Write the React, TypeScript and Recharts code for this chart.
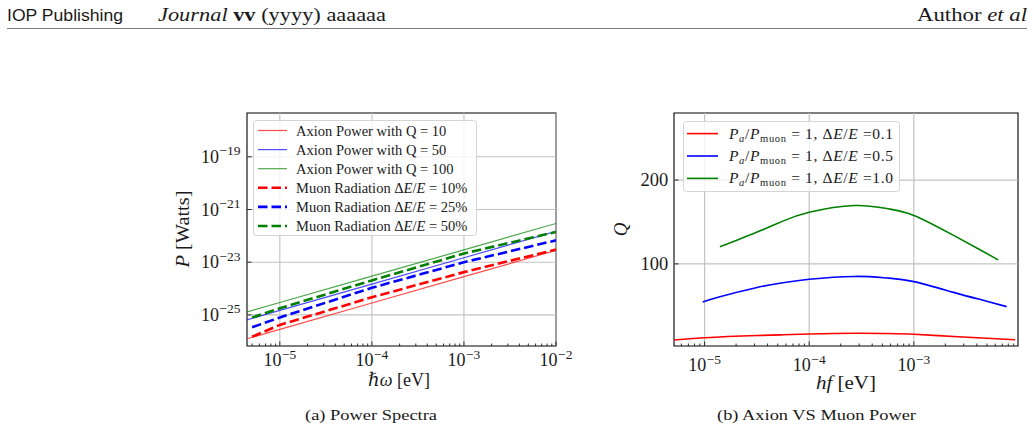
import React from 'react';
import {
  LineChart, Line, XAxis, YAxis, ReferenceLine, ReferenceArea, Legend,
} from 'recharts';

const SERIF = '"Liberation Serif", "DejaVu Serif", serif';
const SANS = '"Liberation Sans", "DejaVu Sans", sans-serif';
const INK = '#1a1a1a';
const GRID = '#c2c2c2';

/* ── (a) power spectra: photon energy [eV] vs power [W] ─────────────── */
const OMEGA_AXION = [4.4e-6, 1e-5, 1e-4, 1e-3, 1e-2];
const AXION_Q10 = [1.24e-26, 2.82e-26, 2.82e-25, 2.82e-24, 2.82e-23];
const AXION_Q50 = [6.5e-26, 1.48e-25, 1.48e-24, 1.48e-23, 1.48e-22];
const AXION_Q100 = [1.3e-25, 2.95e-25, 2.95e-24, 2.95e-23, 2.95e-22];

const OMEGA_MUON = [5e-6, 1e-5, 1e-4, 1e-3, 1e-2];
const MUON_10 = [1.48e-26, 4.17e-26, 4.68e-25, 4.2e-24, 3.02e-23];
const MUON_25 = [3.4e-26, 7.94e-26, 1.07e-24, 1.0e-23, 6.76e-23];
const MUON_50 = [7.9e-26, 1.78e-25, 2.04e-24, 2.14e-23, 1.41e-22];

const OMEGA_DOMAIN: [number, number] = [4.4e-6, 1e-2];
const POWER_DOMAIN: [number, number] = [6.6e-27, 4.6e-18];
const OMEGA_MAJOR = [1e-5, 1e-4, 1e-3, 1e-2];
const POWER_MAJOR = [1e-25, 1e-23, 1e-21, 1e-19];

/* ── (b) quality factor needed for P_a = P_muon ───────────────────── */
const HF_R = [5.1e-6, 1e-5, 3.2e-5, 5.6e-5, 1e-4, 2.7e-4, 5.5e-4, 1e-3, 2.4e-3, 5e-3, 9.3e-3];
const Q_R = [9.2, 11.9, 14.5, 15.4, 16.3, 17.2, 16.9, 16.0, 13.3, 11.3, 9.5];
const HF_B = [9.6e-6, 1.4e-5, 3.1e-5, 5.6e-5, 1e-4, 2.7e-4, 5.5e-4, 1e-3, 2.4e-3, 4.5e-3, 7.7e-3];
const Q_B = [54.6, 60.8, 71.6, 77.5, 81.7, 85.0, 83.2, 78.8, 66.0, 56.8, 49.0];
const HF_G = [1.4e-5, 3.1e-5, 5.6e-5, 1e-4, 2.7e-4, 5.5e-4, 1e-3, 2.4e-3, 4.2e-3, 6.4e-3];
const Q_G = [120.3, 137.4, 151.0, 161.5, 169.6, 166.0, 157.8, 134.0, 117.5, 104.8];

const HF_DOMAIN: [number, number] = [5.1e-6, 9.9e-3];
const Q_DOMAIN: [number, number] = [2, 280];
const HF_MAJOR = [1e-5, 1e-4, 1e-3];
const Q_TICKS = [100, 200];

const axionRows = OMEGA_AXION.map((w, i) => ({ w, q10: AXION_Q10[i], q50: AXION_Q50[i], q100: AXION_Q100[i] }));
const muonRows = OMEGA_MUON.map((w, i) => ({ w, m10: MUON_10[i], m25: MUON_25[i], m50: MUON_50[i] }));
const redRows = HF_R.map((hf, i) => ({ hf, r01: Q_R[i] }));
const blueRows = HF_B.map((hf, i) => ({ hf, r05: Q_B[i] }));
const greenRows = HF_G.map((hf, i) => ({ hf, r10: Q_G[i] }));

// decade ticks plus the 2..9 minors in between, clipped to the axis range
function logTicks([lo, hi]: [number, number]) {
  const out: number[] = [];
  for (let e = Math.floor(Math.log10(lo)); e <= Math.ceil(Math.log10(hi)); e++) {
    for (let m = 1; m <= 9; m++) {
      const v = m * Math.pow(10, e);
      if (v >= lo * 0.999 && v <= hi * 1.001) out.push(v);
    }
  }
  return out;
}

const isDecade = (v: number) => Math.abs(Math.log10(v) - Math.round(Math.log10(v))) < 1e-6;

const Pow10 = ({ exp, sup }: { exp: number; sup: number }) => (
  <>10<tspan dx={0.5} dy={-7.5} fontSize={sup}>{exp < 0 ? `\u2212${-exp}` : exp}</tspan></>
);

/* ── ticks: matplotlib style, pointing into the axes ──────────────── */
function LogXTick(props: any) {
  const { x, y, payload, labelDy } = props;
  const v: number = payload.value;
  const major = isDecade(v);
  return (
    <g>
      <line x1={x} x2={x} y1={y} y2={y - (major ? 4.5 : 2.5)} stroke="#000" strokeWidth={0.8} />
      {major && (
        <text x={x} y={y + labelDy} textAnchor="middle" fontFamily={SERIF} fontSize={18} fill={INK}>
          <Pow10 exp={Math.round(Math.log10(v))} sup={13.5} />
        </text>
      )}
    </g>
  );
}

function LogYTick(props: any) {
  const { x, y, payload } = props;
  const v: number = payload.value;
  return (
    <g>
      <line x1={x} x2={x + 4.5} y1={y} y2={y} stroke="#000" strokeWidth={0.8} />
      <text x={x - 6.5} y={y + 6} textAnchor="end" fontFamily={SERIF} fontSize={18} fill={INK}>
        <Pow10 exp={Math.round(Math.log10(v))} sup={13.5} />
      </text>
    </g>
  );
}

function LinYTick(props: any) {
  const { x, y, payload } = props;
  return (
    <g>
      <line x1={x} x2={x + 4.5} y1={y} y2={y} stroke="#000" strokeWidth={0.8} />
      <text x={x - 5.7} y={y + 6.3} textAnchor="end" fontFamily={SERIF} fontSize={18.5} fill={INK}>
        {payload.value}
      </text>
    </g>
  );
}

/* ── legend styles and labels ─────────────────────────────────────── */
const it = (s: string) => <tspan fontStyle="italic">{s}</tspan>;
const dEoverE = <>Δ{it('E')}/{it('E')}</>;

const POWER_ORDER = ['q10', 'q50', 'q100', 'm10', 'm25', 'm50'];
const POWER_SERIES: Record<string, { color: string; width: number; opacity: number; dash?: string; label: React.ReactNode }> = {
  q10: { color: '#ff0000', width: 1.2, opacity: 0.7, label: 'Axion Power with Q = 10' },
  q50: { color: '#0000ff', width: 1.2, opacity: 0.7, label: 'Axion Power with Q = 50' },
  q100: { color: '#008000', width: 1.2, opacity: 0.7, label: 'Axion Power with Q = 100' },
  m10: { color: '#ff0000', width: 2.6, opacity: 1, dash: '9.5 4', label: <>Muon Radiation {dEoverE} = 10%</> },
  m25: { color: '#0000ff', width: 2.6, opacity: 1, dash: '9.5 4', label: <>Muon Radiation {dEoverE} = 25%</> },
  m50: { color: '#008000', width: 2.6, opacity: 1, dash: '9.5 4', label: <>Muon Radiation {dEoverE} = 50%</> },
};

const ratioLabel = (v: string) => (
  <>
    {it('P')}<tspan fontSize={10.5} fontStyle="italic" dy={3}>a</tspan>
    <tspan dy={-3}>/</tspan>{it('P')}<tspan fontSize={10.5} dy={3}>muon</tspan>
    <tspan dy={-3}> = 1, </tspan>{dEoverE} ={v}
  </>
);

const Q_ORDER = ['r01', 'r05', 'r10'];
const Q_SERIES: Record<string, { color: string; label: React.ReactNode }> = {
  r01: { color: '#ff0000', label: ratioLabel('0.1') },
  r05: { color: '#0000ff', label: ratioLabel('0.5') },
  r10: { color: '#008000', label: ratioLabel('1.0') },
};

const byOrder = (order: string[]) => (a: any, b: any) =>
  order.indexOf(String(a.dataKey)) - order.indexOf(String(b.dataKey));

function PowerLegend({ payload }: any) {
  const W = 224, H = 116, ROW = 19.1, TOP = 10.5;
  const items = [...(payload ?? [])].sort(byOrder(POWER_ORDER));
  return (
    <svg width={W} height={H} style={{ display: 'block' }}>
      <rect x={0.5} y={0.5} width={W - 1} height={H - 1} rx={3} fill="#fff" fillOpacity={0.8} stroke="#d4d4d4" />
      {items.map((entry: any, i: number) => {
        const s = POWER_SERIES[entry.dataKey];
        const cy = TOP + i * ROW;
        return (
          <g key={entry.dataKey}>
            <line x1={5} x2={34} y1={cy} y2={cy} stroke={s.color} strokeWidth={s.width}
              strokeOpacity={s.opacity} strokeDasharray={s.dash} />
            <text x={43} y={cy + 5} fontFamily={SERIF} fontSize={14.5} fill={INK}>{s.label}</text>
          </g>
        );
      })}
    </svg>
  );
}

function QLegend({ payload }: any) {
  const W = 217, H = 71, ROW = 22.4, TOP = 12.6;
  const items = [...(payload ?? [])].sort(byOrder(Q_ORDER));
  return (
    <svg width={W} height={H} style={{ display: 'block' }}>
      <rect x={0.5} y={0.5} width={W - 1} height={H - 1} rx={3} fill="#fff" fillOpacity={0.8} stroke="#d4d4d4" />
      {items.map((entry: any, i: number) => {
        const s = Q_SERIES[entry.dataKey];
        const cy = TOP + i * ROW;
        return (
          <g key={entry.dataKey}>
            <line x1={4} x2={35} y1={cy} y2={cy} stroke={s.color} strokeWidth={1.6} />
            <text x={46} y={cy + 5} fontFamily={SERIF} fontSize={15.5} fill={INK}
              textLength={164} lengthAdjust="spacing">{s.label}</text>
          </g>
        );
      })}
    </svg>
  );
}

/* ── (a) ──────────────────────────────────────────────────────────── */
function PowerSpectra() {
  return (
    <LineChart width={420} height={300} margin={{ top: 13, right: 34, bottom: 0, left: 0 }}>
      {OMEGA_MAJOR.map((v) => <ReferenceLine key={`gx${v}`} x={v} stroke={GRID} strokeWidth={1.1} />)}
      {POWER_MAJOR.map((v) => <ReferenceLine key={`gy${v}`} y={v} stroke={GRID} strokeWidth={1.1} />)}
      <XAxis dataKey="w" type="number" scale="log" domain={OMEGA_DOMAIN} allowDataOverflow
        ticks={logTicks(OMEGA_DOMAIN)} interval={0} tickSize={0} tickMargin={0} axisLine={false} height={54}
        tick={(p: any) => <LogXTick {...p} labelDy={20} />}
        label={({ viewBox }: any) => (
          <text x={368 - 170} y={viewBox.y + 40} fontFamily={SERIF} fontSize={19} fill={INK}
            textLength={62} lengthAdjust="spacingAndGlyphs">
            <tspan fontStyle="italic">ℏω</tspan> [eV]
          </text>
        )} />
      <YAxis type="number" scale="log" domain={POWER_DOMAIN} allowDataOverflow
        ticks={POWER_MAJOR} interval={0} tickSize={0} tickMargin={0} axisLine={false} width={77}
        tick={(p: any) => <LogYTick {...p} />}
        label={({ viewBox }: any) => (
          <text transform={`translate(${viewBox.x + 19},${viewBox.y + viewBox.height / 2 + 38}) rotate(-90)`}
            fontFamily={SERIF} fontSize={19} fill={INK} textLength={77} lengthAdjust="spacingAndGlyphs">
            <tspan fontStyle="italic">P</tspan> [Watts]
          </text>
        )} />
      <Line data={axionRows} dataKey="q10" name="Axion Power with Q = 10" type="linear" dot={false} activeDot={false}
        stroke="#ff0000" strokeOpacity={0.7} strokeWidth={1.2} isAnimationActive={false} />
      <Line data={axionRows} dataKey="q50" name="Axion Power with Q = 50" type="linear" dot={false} activeDot={false}
        stroke="#0000ff" strokeOpacity={0.7} strokeWidth={1.2} isAnimationActive={false} />
      <Line data={axionRows} dataKey="q100" name="Axion Power with Q = 100" type="linear" dot={false} activeDot={false}
        stroke="#008000" strokeOpacity={0.7} strokeWidth={1.2} isAnimationActive={false} />
      <Line data={muonRows} dataKey="m10" name="Muon Radiation 10%" type="linear" dot={false} activeDot={false}
        stroke="#ff0000" strokeWidth={2.6} strokeDasharray="9.5 4" isAnimationActive={false} />
      <Line data={muonRows} dataKey="m25" name="Muon Radiation 25%" type="linear" dot={false} activeDot={false}
        stroke="#0000ff" strokeWidth={2.6} strokeDasharray="9.5 4" isAnimationActive={false} />
      <Line data={muonRows} dataKey="m50" name="Muon Radiation 50%" type="linear" dot={false} activeDot={false}
        stroke="#008000" strokeWidth={2.6} strokeDasharray="9.5 4" isAnimationActive={false} />
      <ReferenceArea x1={OMEGA_DOMAIN[0]} x2={OMEGA_DOMAIN[1]} y1={POWER_DOMAIN[0]} y2={POWER_DOMAIN[1]}
        ifOverflow="visible" fill="none" stroke="#000" strokeWidth={1.1} />
      <Legend layout="vertical" align="center" verticalAlign="middle" content={PowerLegend}
        wrapperStyle={{ left: 83, top: 20, width: 224, height: 116 }} />
    </LineChart>
  );
}

/* ── (b) ──────────────────────────────────────────────────────────── */
function AxionVsMuon() {
  return (
    <LineChart width={420} height={300} margin={{ top: 13, right: 12, bottom: 0, left: 0 }}>
      {HF_MAJOR.map((v) => <ReferenceLine key={`gx${v}`} x={v} stroke={GRID} strokeWidth={1.2} />)}
      {Q_TICKS.map((v) => <ReferenceLine key={`gy${v}`} y={v} stroke={GRID} strokeWidth={1.2} />)}
      <XAxis dataKey="hf" type="number" scale="log" domain={HF_DOMAIN} allowDataOverflow
        ticks={logTicks(HF_DOMAIN)} interval={0} tickSize={0} tickMargin={0} axisLine={false} height={54}
        tick={(p: any) => <LogXTick {...p} labelDy={25} />}
        label={({ viewBox }: any) => (
          <text x={816 - 610} y={viewBox.y + 43} fontFamily={SERIF} fontSize={19} fill={INK}
            textLength={60} lengthAdjust="spacingAndGlyphs">
            <tspan fontStyle="italic">hf</tspan> [eV]
          </text>
        )} />
      <YAxis type="number" domain={Q_DOMAIN} allowDataOverflow ticks={Q_TICKS} interval={0}
        tickSize={0} tickMargin={0} axisLine={false} width={64}
        tick={(p: any) => <LinYTick {...p} />}
        label={({ viewBox }: any) => (
          <text transform={`translate(${viewBox.x + 16.5},${viewBox.y + viewBox.height / 2}) rotate(-90)`}
            textAnchor="middle" fontFamily={SERIF} fontSize={19} fontStyle="italic" fill={INK}>Q</text>
        )} />
      <Line data={redRows} dataKey="r01" name="dE/E = 0.1" type="natural" dot={false} activeDot={false}
        stroke="#ff0000" strokeWidth={1.6} isAnimationActive={false} />
      <Line data={blueRows} dataKey="r05" name="dE/E = 0.5" type="natural" dot={false} activeDot={false}
        stroke="#0000ff" strokeWidth={1.6} isAnimationActive={false} />
      <Line data={greenRows} dataKey="r10" name="dE/E = 1.0" type="natural" dot={false} activeDot={false}
        stroke="#008000" strokeWidth={1.6} isAnimationActive={false} />
      <ReferenceArea x1={HF_DOMAIN[0]} x2={HF_DOMAIN[1]} y1={Q_DOMAIN[0]} y2={Q_DOMAIN[1]}
        ifOverflow="visible" fill="none" stroke="#000" strokeWidth={1.1} />
      <Legend layout="vertical" align="center" verticalAlign="middle" content={QLegend}
        wrapperStyle={{ left: 73, top: 21, width: 217, height: 71 }} />
    </LineChart>
  );
}

export default function App() {
  return (
    <div style={{ position: 'absolute', left: 0, top: 0, width: 1034, height: 433, background: '#fff', overflow: 'hidden' }}>
      <svg width={1034} height={433} style={{ position: 'absolute', left: 0, top: 0 }}>
        <text x={7} y={21} fontFamily={SANS} fontSize={16} fill={INK} textLength={116} lengthAdjust="spacingAndGlyphs">
          IOP Publishing
        </text>
        <text x={158} y={21} fontFamily={SERIF} fontSize={19} fill={INK} textLength={228} lengthAdjust="spacingAndGlyphs">
          <tspan fontStyle="italic">Journal</tspan> <tspan fontWeight="bold">vv</tspan> (yyyy) aaaaaa
        </text>
        <text x={1027} y={21} textAnchor="end" fontFamily={SERIF} fontSize={19} fill={INK} textLength={110} lengthAdjust="spacingAndGlyphs">
          Author <tspan fontStyle="italic">et al</tspan>
        </text>
        <line x1={7} x2={1027} y1={28.5} y2={28.5} stroke="#7a7a7a" strokeWidth={1} />
        <text x={305} y={420} fontFamily={SERIF} fontSize={15.5} fill={INK} textLength={132} lengthAdjust="spacingAndGlyphs">
          (a) Power Spectra
        </text>
        <text x={717} y={420} fontFamily={SERIF} fontSize={15.5} fill={INK} textLength={199} lengthAdjust="spacingAndGlyphs">
          (b) Axion VS Muon Power
        </text>
      </svg>
      <div style={{ position: 'absolute', left: 170, top: 100 }}>
        <PowerSpectra />
      </div>
      <div style={{ position: 'absolute', left: 610, top: 100 }}>
        <AxionVsMuon />
      </div>
    </div>
  );
}
